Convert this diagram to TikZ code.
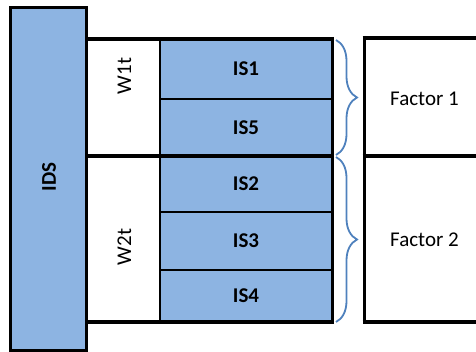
\documentclass[tikz,border=0pt]{standalone}
\usepackage{fontspec}
\setmainfont{Carlito}
\usetikzlibrary{decorations.pathreplacing}
\definecolor{cellblue}{RGB}{141,180,226}
\definecolor{bracecol}{RGB}{79,129,189}
\tikzset{
  cell/.style={draw, line width=2pt, inner sep=0pt, outer sep=0pt, anchor=north west},
  bluecell/.style={cell, fill=cellblue},
  heavy/.style={line width=4pt},
  midline/.style={line width=3pt},
  lbl/.style={inner sep=0pt, font=\fontsize{21}{25}\selectfont},
  blbl/.style={lbl, font=\fontsize{21}{25}\selectfont\bfseries},
  bracestyle/.style={draw=bracecol, line width=1.8pt, decorate,
    decoration={brace, amplitude=21pt}}
}
\begin{document}
\begin{tikzpicture}[x=1pt,y=-1pt]
\useasboundingbox (0,0) rectangle (476,352);
% IDS column
\node[bluecell, line width=3pt, minimum width=75.5pt, minimum height=343pt] (ids) at (10.5,7.5) {};
\node[blbl, rotate=90] (idst) at (49,177) {IDS};
% W column
\node[cell, minimum width=74pt, minimum height=117pt] (w1) at (86,39) {};
\node[cell, minimum width=74pt, minimum height=166pt] (w2) at (86,156) {};
\node[lbl, rotate=90] (w1t) at (124.5,76) {W1t};
\node[lbl, rotate=90] (w2t) at (124.5,247) {W2t};
% IS column
\node[bluecell, minimum width=172pt, minimum height=60pt] (is1) at (160,39) {};
\node[bluecell, minimum width=172pt, minimum height=57pt] (is5) at (160,99) {};
\node[bluecell, minimum width=172pt, minimum height=56pt] (is2) at (160,156) {};
\node[bluecell, minimum width=172pt, minimum height=58pt] (is3) at (160,212) {};
\node[bluecell, minimum width=172pt, minimum height=52pt] (is4) at (160,270) {};
\node[blbl] (is1t) at (is1.center) {IS1};
\node[blbl] (is5t) at (is5.center) {IS5};
\node[blbl] (is2t) at (is2.center) {IS2};
\node[blbl] (is3t) at (is3.center) {IS3};
\node[blbl] (is4t) at (is4.center) {IS4};
% heavy rules
\draw[heavy] (w1.north west) -- (is1.north east);
\draw[heavy] (w2.north west) -- (is2.north east);
\draw[heavy] (w2.south west) -- (is4.south east);
\draw[midline] ([yshift=2pt]is1.north east) -- ([yshift=-2pt]is4.south east);
% Factor boxes
\node[cell, draw=none, minimum width=130pt, minimum height=118pt] (f1) at (364,38) {};
\node[cell, draw=none, minimum width=130pt, minimum height=166pt] (f2) at (364,156) {};
\draw[midline] ([yshift=2pt]f1.north west) -- ([yshift=-2pt]f2.south west);
\draw[heavy] ([xshift=-1.5pt]f1.north west) -- (f1.north east);
\draw[heavy] ([xshift=-1.5pt]f2.north west) -- (f2.north east);
\draw[heavy] ([xshift=-1.5pt]f2.south west) -- (f2.south east);
\node[lbl] (f1t) at (424.5,99) {Factor 1};
\node[lbl] (f2t) at (424.5,240) {Factor 2};
% braces
\coordinate (b1a) at (336,40);
\coordinate (b1b) at (336,155);
\coordinate (b2a) at (336,157);
\coordinate (b2b) at (336,322);
\draw[bracestyle] (b1a) -- (b1b);
\draw[bracestyle] (b2a) -- (b2b);
\end{tikzpicture}
\end{document}
